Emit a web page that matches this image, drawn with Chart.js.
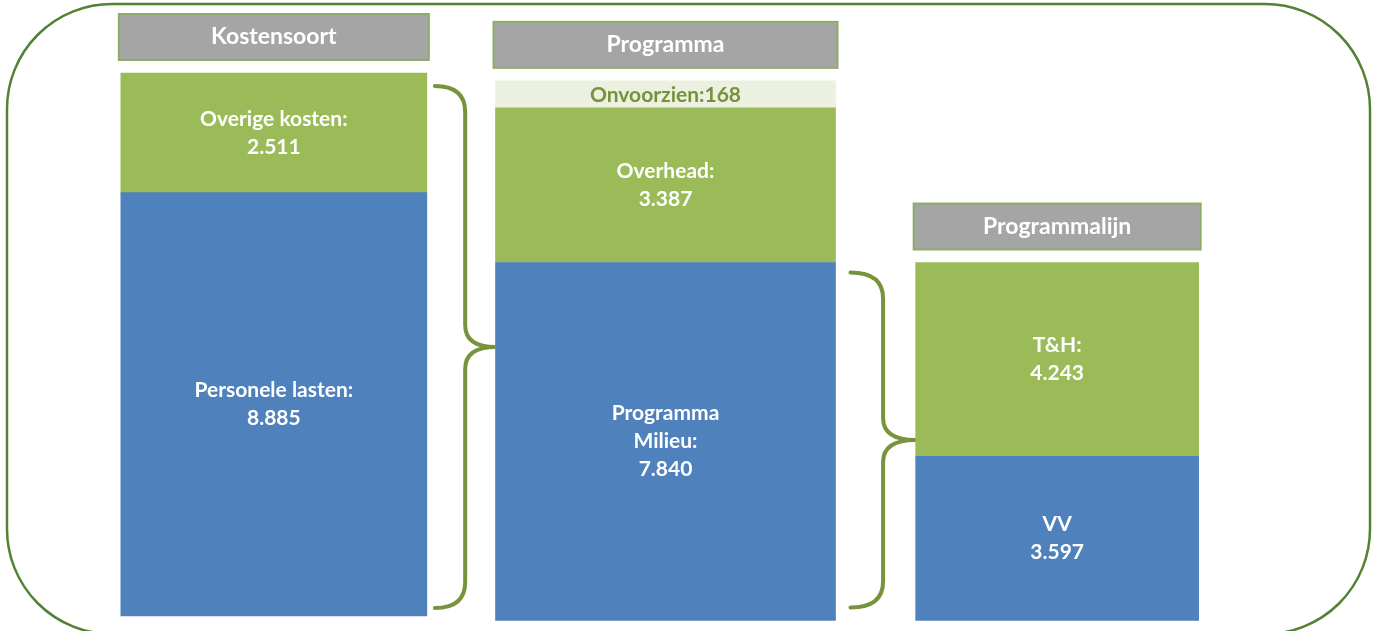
<!DOCTYPE html>
<html>
<head>
<meta charset="utf-8">
<script src="https://cdn.jsdelivr.net/npm/chart.js@4/dist/chart.umd.min.js"></script>
<style>
  html, body { margin: 0; padding: 0; background: #fff; }
  #wrap { width: 1373px; height: 631px; position: relative; }
</style>
</head>
<body>
<div id="wrap"><canvas id="chart"></canvas></div>
<script>
const columns = ['Kostensoort', 'Programma', 'Programmalijn'];

const baseNames = [['Personele lasten:'], ['Programma', 'Milieu:'], ['VV']];
const baseValues = [8885, 7840, 3597];

const topNames = [['Overige kosten:'], ['Overhead:'], ['T&H:']];
const topValues = [2511, 3387, 4243];

const reserveNames = [null, 'Onvoorzien:', null];
const reserveValues = [null, 168, null];

const barWidths = [306, 340, 283];
const FONT = 'Lato, "Open Sans", sans-serif';

const layers = [
    { names: baseNames, values: baseValues, color: '#4f81bd', text: '#ffffff' },
    { names: topNames, values: topValues, color: '#9bbb59', text: '#ffffff' },
    { names: reserveNames, values: reserveValues, color: '#ebf1de', text: '#76923c', inline: true }
];

function fmt(v) {
    return String(v).replace(/\B(?=(\d{3})+(?!\d))/g, '.');
}

const datasets = [];
columns.forEach((col, i) => {
    layers.forEach((layer, l) => {
        if (layer.values[i] == null) return;
        datasets.push({
            label: layer.inline ? layer.names[i] : layer.names[i].join(' '),
            data: columns.map((_, j) => (j === i ? layer.values[i] : null)),
            backgroundColor: layer.color,
            borderWidth: 0,
            barThickness: barWidths[i],
            minBarLength: layer.inline ? 27 : 0,
            yAxisID: i === 0 ? 'yKost' : 'yProg',
            stack: 'all',
            column: i,
            layer: l
        });
    });
});

function columnBounds(chart, i) {
    let top = Infinity, bottom = -Infinity, x = 0, w = 0;
    chart.data.datasets.forEach((ds, di) => {
        if (ds.column !== i) return;
        const el = chart.getDatasetMeta(di).data[i];
        top = Math.min(top, el.y);
        bottom = Math.max(bottom, el.base);
        x = el.x;
        w = el.width;
    });
    return { top, bottom, left: x - w / 2, right: x + w / 2, x };
}

function segmentTop(chart, i, layer) {
    const di = chart.data.datasets.findIndex(ds => ds.column === i && ds.layer === layer);
    return chart.getDatasetMeta(di).data[i].y;
}

function drawBrace(ctx, x0, tip, yTop, yBottom) {
    const xv = (x0 + tip) / 2;
    const yMid = (yTop + yBottom) / 2;
    const r = 26, rm = 22;
    ctx.beginPath();
    ctx.moveTo(x0, yTop);
    ctx.quadraticCurveTo(xv, yTop, xv, yTop + r);
    ctx.lineTo(xv, yMid - rm);
    ctx.quadraticCurveTo(xv, yMid, tip, yMid);
    ctx.quadraticCurveTo(xv, yMid, xv, yMid + rm);
    ctx.lineTo(xv, yBottom - r);
    ctx.quadraticCurveTo(xv, yBottom, x0, yBottom);
    ctx.stroke();
}

const framePlugin = {
    id: 'frame',
    beforeDraw(chart) {
        const ctx = chart.ctx;
        const x0 = 7, y0 = 4, x1 = 1370, y1 = 634, r = 105;
        ctx.save();
        ctx.strokeStyle = '#548235';
        ctx.lineWidth = 2.5;
        ctx.beginPath();
        ctx.moveTo(x0 + r, y0);
        ctx.lineTo(x1 - r, y0);
        ctx.arcTo(x1, y0, x1, y0 + r, r);
        ctx.lineTo(x1, y1 - r);
        ctx.arcTo(x1, y1, x1 - r, y1, r);
        ctx.lineTo(x0 + r, y1);
        ctx.arcTo(x0, y1, x0, y1 - r, r);
        ctx.lineTo(x0, y0 + r);
        ctx.arcTo(x0, y0, x0 + r, y0, r);
        ctx.closePath();
        ctx.stroke();
        ctx.restore();
    }
};

const decorPlugin = {
    id: 'decor',
    afterDatasetsDraw(chart) {
        const ctx = chart.ctx;
        ctx.save();

        // segment labels
        chart.data.datasets.forEach((ds, di) => {
            const el = chart.getDatasetMeta(di).data[ds.column];
            const layer = layers[ds.layer];
            const value = layer.values[ds.column];
            const cy = (el.y + el.base) / 2;
            ctx.fillStyle = layer.text;
            ctx.textAlign = 'center';
            ctx.textBaseline = 'middle';
            ctx.font = 'bold 21px ' + FONT;
            if (layer.inline) {
                ctx.fillText(layer.names[ds.column] + fmt(value), el.x, cy + 1);
                return;
            }
            const lines = layer.names[ds.column].concat(fmt(value));
            const lh = 28;
            lines.forEach((line, k) => {
                ctx.fillText(line, el.x, cy + (k - (lines.length - 1) / 2) * lh);
            });
        });

        // header boxes
        columns.forEach((col, i) => {
            const b = columnBounds(chart, i);
            const h = 46;
            const bottom = b.top - 13;
            const left = b.left - 2, width = b.right - b.left + 4;
            ctx.fillStyle = '#a5a5a5';
            ctx.fillRect(left, bottom - h, width, h);
            ctx.strokeStyle = '#8eab6a';
            ctx.lineWidth = 2;
            ctx.strokeRect(left, bottom - h, width, h);
            ctx.fillStyle = '#ffffff';
            ctx.font = 'bold 23px ' + FONT;
            ctx.textAlign = 'center';
            ctx.textBaseline = 'middle';
            ctx.fillText(col, b.x, bottom - h / 2);
        });

        // braces
        ctx.strokeStyle = '#77933c';
        ctx.lineWidth = 4;
        ctx.lineCap = 'round';
        const c0 = columnBounds(chart, 0);
        const c1 = columnBounds(chart, 1);
        const c2 = columnBounds(chart, 2);
        drawBrace(ctx, c0.right + 8, c1.left, c0.top + 13, c0.bottom - 8);
        drawBrace(ctx, c1.right + 15, c2.left, segmentTop(chart, 1, 0) + 10, c1.bottom - 13);

        ctx.restore();
    }
};

new Chart(document.getElementById('chart'), {
    type: 'bar',
    data: { labels: columns, datasets },
    options: {
        responsive: true,
        maintainAspectRatio: false,
        animation: false,
        layout: { padding: { left: 78, right: 120, top: 20, bottom: 9 } },
        plugins: {
            legend: { display: false },
            tooltip: { enabled: false }
        },
        scales: {
            x: { stacked: true, display: false, grid: { display: false } },
            yKost: { type: 'linear', stacked: true, display: false, min: -126, max: 12508 },
            yProg: { type: 'linear', stacked: true, display: false, min: -33, max: 13151 }
        }
    },
    plugins: [framePlugin, decorPlugin]
});
</script>
</body>
</html>
